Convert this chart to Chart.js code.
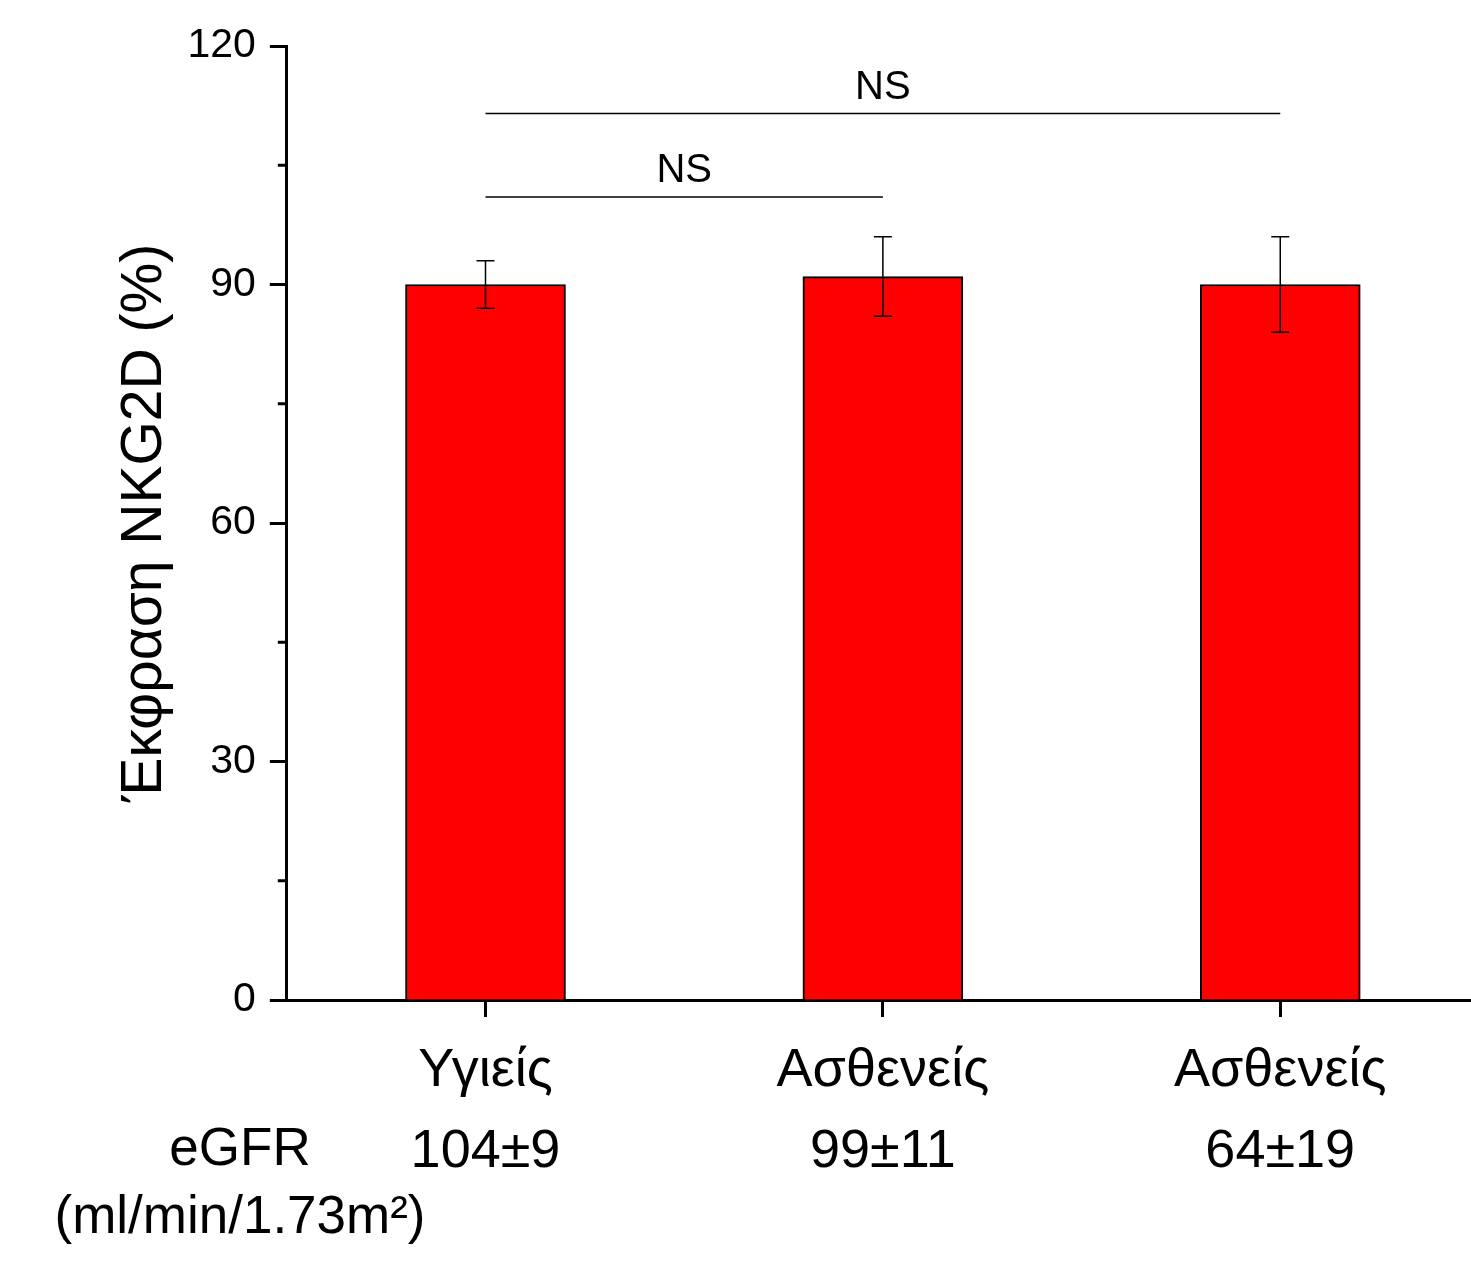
<!DOCTYPE html>
<html>
<head>
<meta charset="utf-8">
<script src="https://cdn.jsdelivr.net/npm/chart.js@4.4.1/dist/chart.umd.min.js"></script>
<style>
  html, body { margin: 0; padding: 0; background: #fff; }
  #wrap { width: 1471px; height: 1262px; }
</style>
</head>
<body>
<div id="wrap"><canvas id="nkgChart"></canvas></div>
<script>
const categories = ['Υγιείς', 'Ασθενείς', 'Ασθενείς'];
const egfrLabels = ['104±9', '99±11', '64±19'];
const meanValues = [90, 91, 90];
const errLow = [3, 5, 6];
const errHigh = [3, 5, 6];
const yMajorTicks = [0, 30, 60, 90, 120];
const yMinorTicks = [15, 45, 75, 105];
// significance brackets: [from category, to category, y value, label]
const brackets = [
    [1, 2, 101, 'NS'],
    [1, 3, 111.5, 'NS']
];

const FONT = 'Arial, "Liberation Sans", sans-serif';

const overlayPlugin = {
    id: 'overlay',
    afterDatasetsDraw(chart) {
        const ctx = chart.ctx;
        const xs = chart.scales.x;
        const ys = chart.scales.y;
        const area = chart.chartArea;
        ctx.save();
        ctx.strokeStyle = '#000';
        ctx.fillStyle = '#000';

        // error bars
        ctx.lineWidth = 1.5;
        meanValues.forEach((v, i) => {
            const x = xs.getPixelForValue(i + 1);
            const yTop = ys.getPixelForValue(v + errHigh[i]);
            const yBot = ys.getPixelForValue(v - errLow[i]);
            ctx.beginPath();
            ctx.moveTo(x, yTop); ctx.lineTo(x, yBot);
            ctx.moveTo(x - 9, yTop); ctx.lineTo(x + 9, yTop);
            ctx.moveTo(x - 9, yBot); ctx.lineTo(x + 9, yBot);
            ctx.stroke();
        });

        // brackets
        ctx.font = '40px ' + FONT;
        ctx.textAlign = 'center';
        ctx.textBaseline = 'bottom';
        brackets.forEach(([a, b, val, label]) => {
            const x1 = xs.getPixelForValue(a);
            const x2 = xs.getPixelForValue(b);
            const y = ys.getPixelForValue(val);
            ctx.beginPath();
            ctx.moveTo(x1, y); ctx.lineTo(x2, y);
            ctx.stroke();
            ctx.fillText(label, (x1 + x2) / 2, y - 6);
        });

        // minor y ticks
        ctx.lineWidth = 3;
        yMinorTicks.forEach(t => {
            const y = ys.getPixelForValue(t);
            ctx.beginPath();
            ctx.moveTo(area.left - 9, y); ctx.lineTo(area.left, y);
            ctx.stroke();
        });

        // eGFR row header
        ctx.font = '53px ' + FONT;
        ctx.textBaseline = 'middle';
        ctx.fillText('eGFR', 240, area.bottom + 150);
        ctx.fillText('(ml/min/1.73m²)', 240, area.bottom + 218);
        ctx.restore();
    }
};

const ctx = document.getElementById('nkgChart').getContext('2d');
const chart = new Chart(ctx, {
    type: 'bar',
    data: {
        datasets: [{
            data: meanValues.map((v, i) => ({ x: i + 1, y: v })),
            backgroundColor: '#ff0000',
            borderColor: '#000',
            borderWidth: 2,
            borderSkipped: 'bottom',
            barThickness: 160
        }]
    },
    options: {
        responsive: true,
        maintainAspectRatio: false,
        animation: false,
        layout: { padding: { left: 111, right: 0, top: 46, bottom: 55 } },
        plugins: {
            legend: { display: false },
            tooltip: { enabled: false }
        },
        scales: {
            x: {
                type: 'linear',
                offset: false,
                min: 0.5,
                max: 3.48,
                afterBuildTicks: scale => {
                    scale.ticks = categories.map((c, i) => ({ value: i + 1 }));
                },
                grid: {
                    offset: false,
                    drawOnChartArea: false,
                    tickLength: 17,
                    tickWidth: 3,
                    tickColor: '#000'
                },
                border: { color: '#000', width: 3 },
                ticks: {
                    color: '#000',
                    padding: 14,
                    maxRotation: 0,
                    autoSkip: false,
                    font: { family: FONT, size: 54, lineHeight: 1.5 },
                    callback: v => [categories[v - 1], egfrLabels[v - 1]]
                }
            },
            y: {
                min: 0,
                max: 120,
                afterBuildTicks: scale => {
                    scale.ticks = yMajorTicks.map(v => ({ value: v }));
                },
                grid: {
                    drawOnChartArea: false,
                    tickLength: 17,
                    tickWidth: 3,
                    tickColor: '#000'
                },
                border: { color: '#000', width: 3 },
                ticks: {
                    color: '#000',
                    padding: 14,
                    font: { family: FONT, size: 41 }
                },
                title: {
                    display: true,
                    text: 'Έκφραση NKG2D (%)',
                    color: '#000',
                    padding: { top: 0, bottom: -6 },
                    font: { family: FONT, size: 57 }
                }
            }
        }
    },
    plugins: [overlayPlugin]
});
</script>
</body>
</html>
